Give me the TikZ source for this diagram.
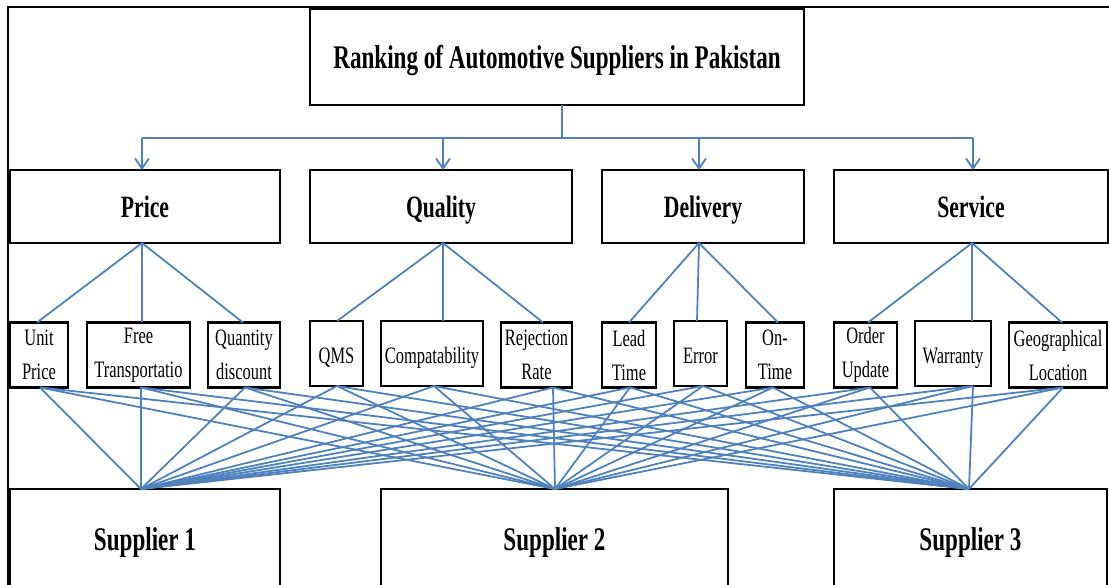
\documentclass[tikz,border=0pt]{standalone}
\usepackage{fontspec}
\setmainfont{Liberation Serif}[FakeStretch=0.7]
\usetikzlibrary{arrows.meta}
\definecolor{linkblue}{RGB}{79,129,189}
\begin{document}
\begin{tikzpicture}[x=1pt,y=-1pt,
  box/.style={draw=black,line width=2.4pt,inner sep=0pt,outer sep=0pt,align=center,fill=white},
  headbox/.style={box,text height=24pt,text depth=0pt,font=\fontsize{33}{40}\selectfont\bfseries},
  catbox/.style={box,minimum height=73pt,text height=23pt,text depth=0pt,font=\fontsize{31}{38}\selectfont\bfseries},
  subbox/.style={box,minimum height=65pt,font=\fontsize{23.5}{34}\selectfont},
  oneline/.style={text height=19pt,text depth=0pt},
  supbox/.style={box,minimum height=99pt,text height=23pt,text depth=0pt,font=\fontsize{33}{40}\selectfont\bfseries},
  link/.style={draw=linkblue,line width=1.8pt},
  feed/.style={link,-{Straight Barb[length=10pt,width=14pt,line width=1.8pt]}}]
\useasboundingbox (0,0) rectangle (1109,585);
\clip (0,0) rectangle (1109,585);

% outer frame
\draw[line width=1.6pt] (8,600) -- (8,7) -- (1120,7);

% goal
\node[headbox,minimum width=494pt,minimum height=96pt] (title) at (557,57)
  {Ranking of Automotive Suppliers in Pakistan};

% criteria
\node[catbox,minimum width=270pt] (price)    at (145,206.5) {Price};
\node[catbox,minimum width=262pt] (quality)  at (441,206.5) {Quality};
\node[catbox,minimum width=202pt] (delivery) at (703,206.5) {Delivery};
\node[catbox,minimum width=274pt] (service)  at (971,206.5) {Service};

% sub-criteria
\node[subbox,minimum width=58pt]  (up)  at (39,355)    {Unit\\Price};
\node[subbox,minimum width=103pt] (ft)  at (138.5,355) {Free\\Transportatio};
\node[subbox,minimum width=72pt]  (qd)  at (244,355)   {Quantity\\discount};
\node[subbox,oneline,minimum width=53pt]  (qms) at (336.5,353.5) {QMS};
\node[subbox,oneline,minimum width=102pt] (cp)  at (432,353.5)   {Compatability};
\node[subbox,minimum width=71pt]  (rr)  at (536.5,355) {Rejection\\Rate};
\node[subbox,minimum width=54pt]  (lt)  at (629,355)   {Lead\\Time};
\node[subbox,oneline,minimum width=53pt]  (er)  at (700.5,353.5) {Error};
\node[subbox,minimum width=58pt]  (ot)  at (775,355)   {On-\\Time};
\node[subbox,minimum width=63pt]  (ou)  at (865.5,355) {Order\\Update};
\node[subbox,oneline,minimum width=76pt]  (wr)  at (953,353.5)   {Warranty};
\node[subbox,minimum width=98pt]  (gl)  at (1058,355)  {Geographical\\Location};

% alternatives
\node[supbox,minimum width=270pt] (s1) at (145,538.5)   {Supplier 1};
\node[supbox,minimum width=347pt] (s2) at (554.5,538.5) {Supplier 2};
\node[supbox,minimum width=273pt] (s3) at (970.5,538.5) {Supplier 3};

% bus from the goal to the criteria
\coordinate (bus)  at (562,138);
\coordinate (busL) at (142,138);
\coordinate (busR) at (973,138);
\coordinate (dq)   at (443,138);
\coordinate (dd)   at (699,138);
\draw[link] (title.south -| bus) -- (bus);
\draw[link] (busL) -- (busR);
\draw[feed] (busL) -- (price.north -| busL);
\draw[feed] (dq)   -- (quality.north -| dq);
\draw[feed] (dd)   -- (delivery.north -| dd);
\draw[feed] (busR) -- (service.north -| busR);

% criteria to sub-criteria
\foreach \c/\cx/\s/\sx in {price/142/up/37, price/142/ft/142, price/142/qd/243,
    quality/443/qms/337, quality/443/cp/443, quality/443/rr/543,
    delivery/699/lt/629, delivery/699/er/697, delivery/699/ot/778,
    service/972/ou/868, service/972/wr/972, service/972/gl/1062}
  \draw[link] (\c.south -| \cx,0) -- (\s.north -| \sx,0);

% sub-criteria to every supplier
\foreach \s/\bx in {up/40, ft/141, qd/245, qms/337, cp/434, rr/553,
    lt/630, er/703, ot/773, ou/870, wr/973, gl/1063}
  \foreach \p/\px in {s1/141, s2/555, s3/969}
    \draw[link] (\s.south -| \bx,0) -- (\p.north -| \px,0);
\end{tikzpicture}
\end{document}
